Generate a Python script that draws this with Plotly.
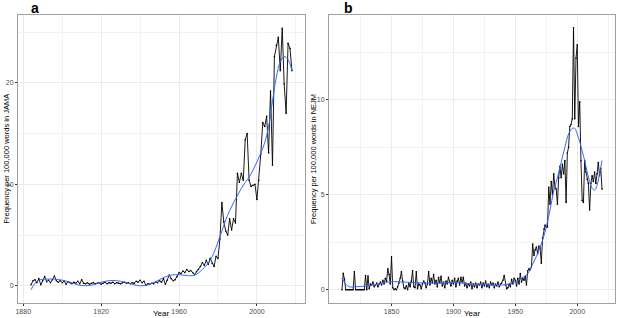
import plotly.graph_objects as go

# ---------------- data: panel a (JAMA), yearly 1884-2018 ----------------
jama_start_year = 1884
jama_freq = [
    0.1, 0.5, 0.6, 0.3, 0.7, 0.1, 0.5, 0.9, 0.4, 0.55,      # 1884-1893
    0.3, 0.6, 0.95, 0.5, 0.35, 0.5, 0.3, 0.45, 0.15, 0.4,   # 1894-1903
    0.3, 0.2, 0.35, 0.25, 0.45, 0.2, 0.6, 0.25, 0.2, 0.3,   # 1904-1913
    0.15, 0.25, 0.3, 0.2, 0.25, 0.3, 0.15, 0.25, 0.35, 0.2, # 1914-1923
    0.3, 0.25, 0.35, 0.2, 0.3, 0.25, 0.2, 0.3, 0.35, 0.25,  # 1924-1933
    0.3, 0.2, 0.3, 0.25, 0.45, 0.35, 0.55, 0.3, 0.45, 0.05, # 1934-1943
    0.2, 0.15, 0.25, 0.2, 0.4, 0.3, 0.5, 0.35, 0.7, 0.15,   # 1944-1953
    0.55, 1.05, 0.7, 0.5, 0.6, 0.9, 1.3, 1.2, 1.45, 1.3,    # 1954-1963
    1.6, 1.4, 1.5, 1.3, 1.1, 1.4, 1.6, 1.9, 2.3, 2.0,       # 1964-1973
    2.5, 2.1, 2.7, 2.2, 1.9, 2.9, 2.7, 4.6, 8.2, 6.3,       # 1974-1983
    5.4, 5.0, 6.6, 5.5, 6.6, 6.2, 11.1, 10.2, 11.1, 10.4,   # 1984-1993
    14.4, 15.0, 10.4, 9.8, 9.9, 10.0, 8.5, 10.4, 13.0, 16.1,  # 1994-2003
    15.7, 16.7, 13.1, 19.2, 11.9, 22.6, 23.7, 24.5, 21.2, 25.4,  # 2004-2013
    19.9, 17.0, 23.9, 23.4, 21.2,                           # 2014-2018
]
jama_years = list(range(jama_start_year, jama_start_year + len(jama_freq)))

# smoothed trend
jama_smooth_years = [1884, 1886, 1888, 1892, 1896, 1900, 1904, 1908, 1912, 1916, 1920,
                     1924, 1928, 1932, 1936, 1940, 1944, 1948, 1952, 1956, 1960, 1964,
                     1968, 1972, 1976, 1978, 1980, 1982, 1984, 1986, 1988, 1990, 1992,
                     1994, 1996, 1998, 2000, 2002, 2004, 2006, 2008, 2010, 2012, 2014,
                     2016, 2018]
jama_smooth = [-0.4, 0.25, 0.55, 0.65, 0.65, 0.55, 0.35, 0.1, 0.0, 0.1, 0.35,
               0.5, 0.5, 0.35, 0.15, 0.0, 0.1, 0.4, 0.8, 1.05, 1.1, 1.0,
               1.05, 1.6, 2.5, 3.3, 4.3, 5.4, 6.5, 7.4, 8.2, 8.9, 9.6,
               10.2, 10.7, 11.4, 12.2, 13.1, 14.1, 15.7, 18.2, 20.6, 22.1, 22.6,
               22.3, 21.2]

# ---------------- data: panel b (NEJM), yearly 1810-2020 ----------------
nejm_start_year = 1810
nejm_freq = [
    0.0, 0.86, 0.55, 0.0, 0.0, 0.0, 0.0, 0.0, 0.0, 0.0,      # 1810-1819
    0.95, 0.0, 0.0, 0.0, 0.0, 0.0, 0.0, 0.0, 0.0, 0.75,      # 1820-1829
    0.0, 0.72, 0.05, 0.3, 0.25, 0.4, 0.15, 0.25, 0.35, 0.15, # 1830-1839
    0.3, 0.4, 0.25, 0.5, 0.3, 0.6, 0.45, 1.1, 0.8, 0.3,      # 1840-1849
    1.74, 0.1, 0.0, 0.05, 0.0, 0.15, 0.35, 0.6, 0.95, 0.45,  # 1850-1859
    0.1, 0.05, 0.2, 0.0, 0.35, 0.15, 0.45, 1.0, 0.15, 0.1,   # 1860-1869
    0.95, 0.05, 0.3, 0.25, 0.05, 0.3, 0.45, 0.35, 0.1, 0.3,  # 1870-1879
    0.95, 0.25, 0.6, 0.35, 0.8, 0.3, 0.5, 0.15, 0.65, 0.35,  # 1880-1889
    0.7, 0.2, 0.4, 0.1, 0.45, 0.3, 0.65, 0.4, 0.2, 0.5,      # 1890-1899
    0.3, 0.6, 0.15, 0.45, 0.6, 0.25, 0.65, 0.4, 0.65, 0.2,   # 1900-1909
    0.35, 0.1, 0.3, 0.2, 0.4, 0.05, 0.3, 0.15, 0.35, 0.1,    # 1910-1919
    0.3, 0.25, 0.4, 0.1, 0.35, 0.2, 0.45, 0.15, 0.3, 0.1,    # 1920-1929
    0.4, 0.25, 0.35, 0.1, 0.3, 0.2, 0.4, 0.15, 0.3, 0.35,    # 1930-1939
    0.5, 0.75, 0.25, 0.05, 0.1, 0.3, 0.15, 0.55, 0.3, 0.6,   # 1940-1949
    0.5, 0.2, 0.6, 0.3, 0.85, 0.4, 0.6, 0.5, 0.7, 0.25,      # 1950-1959
    1.0, 1.1, 1.05, 1.2, 2.4, 1.8, 2.1, 2.25, 1.9, 2.3,      # 1960-1969
    2.2, 1.4, 2.7, 3.2, 3.4, 3.3, 3.3, 5.4, 4.5, 5.7,        # 1970-1979
    5.0, 6.1, 5.4, 5.3, 4.5, 5.9, 6.5, 5.9, 6.6, 6.1,        # 1980-1989
    6.8, 4.6, 7.2, 7.5, 8.6, 8.7, 9.0, 13.8, 9.0, 12.2,      # 1990-1999
    12.9, 8.6, 9.9, 6.8, 4.7, 4.6, 6.8, 6.2, 5.8, 5.6,       # 2000-2009
    4.2, 5.6, 6.0, 5.7, 6.2, 5.6, 6.1, 6.7, 6.0, 6.4,        # 2010-2019
    5.3,                                                     # 2020
]
nejm_years = list(range(nejm_start_year, nejm_start_year + len(nejm_freq)))

nejm_smooth_years = [1810, 1813, 1816, 1820, 1825, 1830, 1835, 1840, 1845, 1850, 1855,
                     1860, 1870, 1880, 1890, 1900, 1910, 1920, 1930, 1940, 1945, 1950,
                     1955, 1960, 1964, 1968, 1972, 1975, 1978, 1981, 1984, 1987, 1990,
                     1993, 1996, 1998, 2000, 2002, 2004, 2006, 2008, 2010, 2012, 2014,
                     2016, 2018, 2020]
nejm_smooth = [0.6, 0.3, 0.15, 0.15, 0.17, 0.2, 0.25, 0.3, 0.38, 0.42, 0.42,
               0.4, 0.37, 0.35, 0.35, 0.38, 0.33, 0.28, 0.25, 0.25, 0.3, 0.42,
               0.6, 0.85, 1.35, 1.9, 2.6, 3.3, 4.2, 5.2, 5.9, 6.7, 7.5,
               8.2, 8.5, 8.5, 8.2, 7.8, 7.3, 6.8, 6.2, 5.7, 5.35, 5.25,
               5.5, 6.1, 6.8]

# tick labels
jama_xticks = [1880, 1920, 1960, 2000]
jama_xminor = [1900, 1940, 1980, 2020]
jama_yticks = [0, 10, 20]
jama_yminor = [5, 15, 25]
nejm_xticks = [1850, 1900, 1950, 2000]
nejm_xminor = [1825, 1875, 1925, 1975, 2025]
nejm_yticks = [0, 5, 10]
nejm_yminor = [2.5, 7.5, 12.5]

# ---------------- figure ----------------
W, H = 617, 318
FONT = "Liberation Sans"

fig = go.Figure()

def add_panel(xs, ys, sx, sy, xa, ya):
    fig.add_trace(go.Scatter(
        x=xs, y=ys, mode="lines+markers", xaxis=xa, yaxis=ya,
        line=dict(color="black", width=0.9),
        marker=dict(size=1.6, color="black"),
        showlegend=False, hoverinfo="skip"))
    fig.add_trace(go.Scatter(
        x=sx, y=sy, mode="lines", xaxis=xa, yaxis=ya,
        line=dict(color="#3366FF", width=1, shape="spline", smoothing=1.0),
        showlegend=False, hoverinfo="skip"))

add_panel(jama_years, jama_freq, jama_smooth_years, jama_smooth, "x", "y")
add_panel(nejm_years, nejm_freq, nejm_smooth_years, nejm_smooth, "x2", "y2")

def ax(domain, rng, ticks, minor, anchor):
    return dict(
        domain=domain, range=rng, anchor=anchor,
        tickmode="array", tickvals=ticks, ticktext=[str(t) for t in ticks],
        showgrid=True, gridcolor="#EBEBEB", gridwidth=1,
        minor=dict(tickmode="array", tickvals=minor, showgrid=True,
                   gridcolor="#F2F2F2", gridwidth=0.6, ticks=""),
        zeroline=False, showline=True, linecolor="#A0A0A0", linewidth=1,
        mirror=True, ticks="outside", ticklen=2, tickcolor="#333333",
        tickwidth=0.8,
        tickfont=dict(size=7, color="#4D4D4D", family=FONT),
        automargin=False, fixedrange=True,
    )

ydom = [1 - 303 / H, 1 - 15 / H]
fig.update_layout(
    width=W, height=H,
    margin=dict(l=0, r=0, t=0, b=0),
    paper_bgcolor="white", plot_bgcolor="white",
    font=dict(family=FONT, color="black"),
    xaxis=ax([18 / W, 305 / W], [1877.3, 2024.7], jama_xticks, jama_xminor, "y"),
    yaxis=ax(ydom, [-1.7, 26.7], jama_yticks, jama_yminor, "x"),
    xaxis2=ax([329 / W, 615 / W], [1799.5, 2030.5], nejm_xticks, nejm_xminor, "y2"),
    yaxis2=ax(ydom, [-0.7, 14.47], nejm_yticks, nejm_yminor, "x2"),
)

def txt(x, y, s, size, bold=False, angle=0, xanchor="center", yanchor="middle"):
    fig.add_annotation(
        x=x / W, y=1 - y / H, xref="paper", yref="paper", text=("<b>%s</b>" % s) if bold else s,
        showarrow=False, textangle=angle, xanchor=xanchor, yanchor=yanchor,
        font=dict(size=size, family=FONT, color="black"))

txt(29, 8, "a", 14, bold=True, xanchor="left")
txt(342, 8, "b", 14, bold=True, xanchor="left")
txt(161.5, 313.5, "Year", 8)
txt(472, 313.5, "Year", 8)
txt(5.5, 159, "Frequency per 100,000 words in JAMA", 7.5, angle=-90)
txt(313, 159, "Frequency per 100,000 words in NEJM", 7.5, angle=-90)

fig.write_html(
    "out.html",
    config={"displayModeBar": False},
    post_script="document.body.style.margin='0';document.body.style.overflow='hidden';",
)
